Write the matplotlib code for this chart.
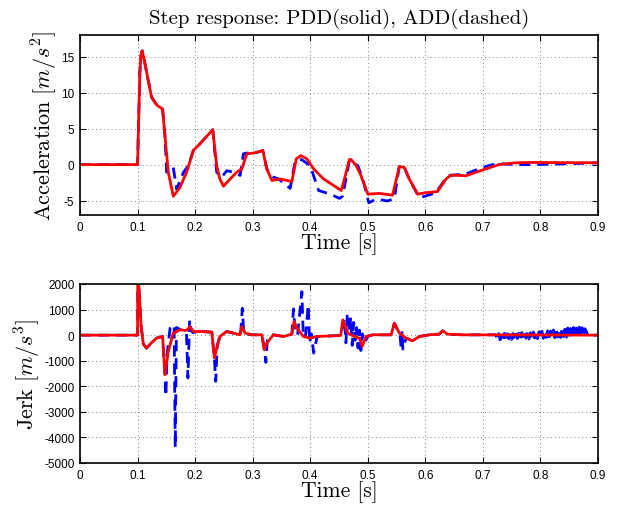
import matplotlib
matplotlib.use("Agg")
import matplotlib.pyplot as plt

# ---------------- data ----------------
# Acceleration, PDD (solid red)
t_acc_pdd = [0, 0.1, 0.104, 0.106, 0.108, 0.111, 0.1168, 0.1244, 0.1331, 0.1435,
             0.1476, 0.1534, 0.1621, 0.1737, 0.1853, 0.1969, 0.2085, 0.2306, 0.2375, 0.243,
             0.2492, 0.2608, 0.2724, 0.2811, 0.2898, 0.3014, 0.3176, 0.3246, 0.3333, 0.3478,
             0.3681, 0.3757, 0.3838, 0.3943, 0.4059, 0.4233, 0.4407, 0.4538, 0.4595, 0.468,
             0.471, 0.48, 0.488, 0.5, 0.52, 0.543, 0.555, 0.5636, 0.572, 0.5867,
             0.601, 0.621, 0.636, 0.6445, 0.6705, 0.6994, 0.728, 0.757, 0.78, 0.9]
a_pdd = [0, 0, 12.8, 15.2, 15.8, 14.8, 12.4, 9.35, 8.3, 7.7,
         4.0, -1.05, -4.4, -3.15, -1.05, 1.95, 2.9, 4.85, -0.15, -2.0,
         -3.0, -2.0, -1.05, -0.6, 1.5, 1.6, 1.95, -0.6, -2.2, -2.0,
         -2.35, 0.8, 1.25, 0.8, -0.6, -2.0, -2.9, -3.6, -2.0, 0.7,
         0.7, -0.15, -1.5, -4.1, -4.0, -4.25, -0.25, -0.4, -2.0, -4.1,
         -3.9, -3.75, -2.0, -1.45, -1.55, -0.75, 0, 0.25, 0.3, 0.25]

# Acceleration, ADD (dashed blue)
t_acc_add = [0, 0.1, 0.104, 0.106, 0.108, 0.111, 0.1168, 0.1244, 0.1331, 0.1435,
             0.1476, 0.1505, 0.156, 0.162, 0.168, 0.174, 0.18, 0.188, 0.1969, 0.2085,
             0.2306, 0.2375, 0.2463, 0.255, 0.2666, 0.2782, 0.284, 0.29, 0.304, 0.3176,
             0.3246, 0.3362, 0.345, 0.3652, 0.374, 0.385, 0.40, 0.4146, 0.4349, 0.4509,
             0.4566, 0.468, 0.4827, 0.4913, 0.5017, 0.5145, 0.5347, 0.5462, 0.555, 0.5636,
             0.572, 0.5896, 0.6012, 0.6185, 0.6387, 0.650, 0.6705, 0.6994, 0.7168, 0.734,
             0.757, 0.792, 0.838, 0.9]
a_add = [0, 0, 12.8, 15.2, 15.8, 14.8, 12.4, 9.35, 8.3, 7.7,
         4.0, -1.05, -0.6, -0.4, -3.4, -2.2, -1.05, -0.15, 1.95, 2.9,
         4.85, -1.05, -1.75, -0.85, -1.05, -1.5, 1.5, 1.6, 1.6, 1.95,
         -0.6, -1.75, -2.0, -3.3, 0.55, 0.7, -0.15, -3.6, -4.1, -4.7,
         -4.35, 0.55, -0.15, -2.0, -5.3, -4.8, -5.05, -4.7, -0.05, -0.4,
         -2.0, -4.6, -4.35, -3.9, -1.55, -1.45, -1.3, -0.4, 0, 0.1,
         0, 0, 0.1, 0.25]

# Jerk, PDD (solid red)
t_jerk_pdd = [0, 0.1, 0.1005, 0.1025, 0.106, 0.11, 0.1157, 0.124, 0.133, 0.1435,
              0.1476, 0.1534, 0.162, 0.1737, 0.185, 0.191, 0.197, 0.214, 0.229, 0.2335,
              0.2375, 0.243, 0.255, 0.2666, 0.278, 0.281, 0.2869, 0.2985, 0.316, 0.32,
              0.3246, 0.336, 0.354, 0.368, 0.372, 0.3768, 0.388, 0.40, 0.4117, 0.453,
              0.4566, 0.4653, 0.4769, 0.4855, 0.4902, 0.497, 0.5087, 0.5405, 0.5462, 0.555,
              0.5665, 0.578, 0.5896, 0.607, 0.624, 0.6301, 0.6387, 0.6647, 0.9]
j_pdd = [0, 0, 2600, 1800, 400, -350, -506, -300, -117, -52,
         -1545, -636, 78, 208, 182, 338, 143, 143, 117, -896,
         -506, -52, 143, 78, 13, 338, 78, 13, 13, -571,
         -312, 13, -52, 39, 532, 273, -52, -117, -52, -13,
         597, 78, -52, -117, -441, -52, 13, 13, 467, 78,
         -117, -220, -52, 13, 39, 169, 39, 13, 0]

# Jerk, ADD (dashed blue)
t_jerk_add = [0, 0.1, 0.1005, 0.1025, 0.106, 0.11, 0.1157, 0.124, 0.133, 0.1435,
              0.1475, 0.1493, 0.151, 0.1565, 0.1635, 0.1655, 0.1675, 0.175, 0.185, 0.1875,
              0.1905, 0.193, 0.196, 0.205, 0.229, 0.2335, 0.2358, 0.2385, 0.243, 0.255,
              0.2666, 0.279, 0.282, 0.2845, 0.2985, 0.316, 0.3205, 0.3229, 0.3255, 0.336,
              0.354, 0.368, 0.371, 0.3735, 0.378, 0.3855, 0.388, 0.392, 0.3965, 0.399,
              0.402, 0.406, 0.412, 0.453, 0.4566, 0.4595, 0.462, 0.4645, 0.468, 0.4705,
              0.473, 0.4755, 0.478, 0.4805, 0.483, 0.4855, 0.488, 0.4905, 0.494, 0.5,
              0.5087, 0.5405, 0.5462, 0.5535, 0.556, 0.558, 0.5595, 0.561, 0.5665, 0.578,
              0.5896, 0.607, 0.624, 0.6301, 0.6387, 0.6647, 0.7225,
              0.7250, 0.7275, 0.7300, 0.7325, 0.7350, 0.7375, 0.7400, 0.7425, 0.7450, 0.7475,
              0.7500, 0.7525, 0.7550, 0.7575, 0.7600, 0.7625, 0.7650, 0.7675, 0.7700, 0.7725,
              0.7750, 0.7775, 0.7800, 0.7825, 0.7850, 0.7875, 0.7900, 0.7925, 0.7950, 0.7975,
              0.8000, 0.8025, 0.8050, 0.8075, 0.8100, 0.8125, 0.8150, 0.8175, 0.8200, 0.8225,
              0.8250, 0.8275, 0.8300, 0.8325, 0.8350, 0.8375, 0.8400, 0.8425, 0.8450, 0.8475,
              0.8500, 0.8525, 0.8550, 0.8575, 0.8600, 0.8625, 0.8650, 0.8675, 0.8700, 0.8725,
              0.8750, 0.8775,
              0.8825, 0.9]
j_add = [0, 0, 2600, 1800, 400, -350, -506, -300, -117, -52,
         -1545, -2390, -800, 273, 400, -4400, 300, 208, 78, -1675,
         597, 185, 100, 143, 117, -896, -1805, -400, -52, 143,
         78, 13, 1050, 80, 13, 13, -571, -1065, -200, 13,
         -52, 39, 1025, 200, 0, 1700, -100, 0, 1180, -300,
         50, -700, -52, -13, 400, 660, -300, 857, 100, 700,
         -400, 500, -200, 300, -500, 200, -600, 50, -300, -52,
         13, 13, 467, 100, 0, -500, 150, -550, -117, -220,
         -52, 13, 39, 169, 39, 13, 13,
         -150, 60, -180, 40, -160, 70, -190, 50, -140, 80,
         -170, 60, -150, 90, -130, 70, -160, 100, -140, 80,
         -120, 110, -150, 90, -130, 120, -110, 100, -140, 130,
         -100, 150, -120, 140, -90, 170, -110, 160, -80, 200,
         -100, 180, -70, 220, -90, 250, -60, 230, -80, 280,
         -50, 260, -70, 300, -40, 280, -60, 310, -30, 290,
         -50, 250,
         0, 0]

x_ticks = [0, 0.1, 0.2, 0.3, 0.4, 0.5, 0.6, 0.7, 0.8, 0.9]
x_ticklabels = ["0", "0.1", "0.2", "0.3", "0.4", "0.5", "0.6", "0.7", "0.8", "0.9"]
acc_yticks = [-5, 0, 5, 10, 15]
jerk_yticks = [-5000, -4000, -3000, -2000, -1000, 0, 1000, 2000]

title_text = "Step response: PDD(solid), ADD(dashed)"
acc_ylabel = r"$\mathrm{Acceleration}\ [m/s^2]$"
jerk_ylabel = r"$\mathrm{Jerk}\ [m/s^3]$"
xlabel_text = "Time [s]"

# ---------------- style ----------------
plt.rcParams["mathtext.fontset"] = "cm"
plt.rcParams["font.family"] = ["Liberation Sans", "DejaVu Sans"]
plt.rcParams["axes.unicode_minus"] = False

fig = plt.figure(figsize=(6.18, 5.06), dpi=100)
ax1 = fig.add_axes([80 / 618, (506 - 216) / 506, 518 / 618, 180 / 506])
ax2 = fig.add_axes([80 / 618, (506 - 464) / 506, 518 / 618, 179 / 506])

def style(ax, yticks, ylim):
    ax.set_xlim(0, 0.9)
    ax.set_ylim(*ylim)
    ax.set_xticks(x_ticks)
    ax.set_xticklabels(x_ticklabels)
    ax.set_yticks(yticks)
    ax.set_yticklabels([str(v) for v in yticks])
    ax.tick_params(direction="in", top=True, right=True, length=4, width=0.8,
                   labelsize=8.5, pad=4)
    ax.grid(True, color="#808080", linestyle=(0, (1, 3)), linewidth=0.7)
    for s in ax.spines.values():
        s.set_linewidth(1.2)
        s.set_color("black")
    ax.set_xlabel(xlabel_text, fontsize=15.5, labelpad=0, family="cmr10")

ax1.plot(t_acc_add, a_add, color="#0000ff", linestyle="--", linewidth=2.0, dashes=(4, 2.5))
ax1.plot(t_acc_pdd, a_pdd, color="#ff0000", linestyle="-", linewidth=2.0)
style(ax1, acc_yticks, (-7, 18))
ax1.set_ylabel(acc_ylabel, fontsize=16, labelpad=1)
ax1.set_title(title_text, fontsize=15, pad=9, family="cmr10")

ax2.plot(t_jerk_add, j_add, color="#0000ff", linestyle="--", linewidth=2.0, dashes=(4, 2.5))
ax2.plot(t_jerk_pdd, j_pdd, color="#ff0000", linestyle="-", linewidth=2.0)
style(ax2, jerk_yticks, (-5000, 2000))
ax2.set_ylabel(jerk_ylabel, fontsize=16, labelpad=1)

fig.savefig("out.png", dpi=100)
